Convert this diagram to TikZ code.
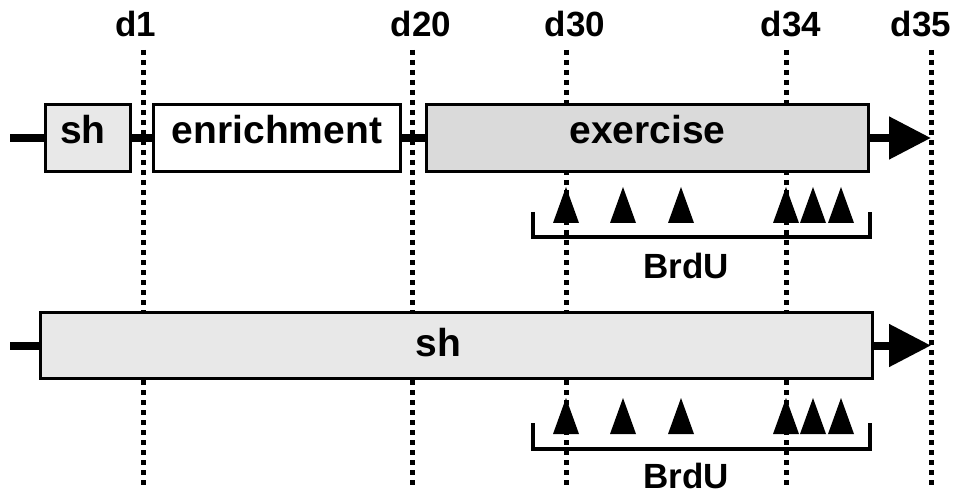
\documentclass[tikz,border=0pt]{standalone}
\usepackage{fontspec}
\setmainfont{Liberation Sans}
\usetikzlibrary{arrows.meta}
\pgfdeclarelayer{background}
\pgfsetlayers{background,main}
\definecolor{shgray}{HTML}{E8E8E8}
\definecolor{exgray}{HTML}{DADADA}
\begin{document}
\begin{tikzpicture}[x=1pt,y=-1pt,
  box/.style={draw=black, line width=3pt, inner sep=0pt, minimum height=67pt,
    font=\fontsize{39}{42}\selectfont\bfseries, text height=28pt, text depth=16pt},
  conn/.style={line width=8pt},
  bigarrow/.style={-{Triangle[length=42pt,width=41pt]}},
  dotline/.style={line width=5pt, dash pattern=on 5pt off 5pt},
  daylabel/.style={anchor=base, inner sep=0pt, font=\fontsize{35}{38}\selectfont\bfseries},
  bracket/.style={line width=4pt},
  brdu/.style={anchor=base, inner sep=0pt, font=\fontsize{35}{38}\selectfont\bfseries},
  tri/.style={fill=black}
]
\useasboundingbox (0,0) rectangle (960,494);

% day labels
\node[daylabel] (ld1)  at (135.5,37) {d1};
\node[daylabel] (ld20) at (421,37) {d20};
\node[daylabel] (ld30) at (575,37) {d30};
\node[daylabel] (ld34) at (791,37) {d34};
\node[daylabel] (ld35) at (921,37) {d35};

% dotted day lines (behind everything)
\foreach \n/\x in {1/143,20/412,30/566,34/786,35/931}{
  \coordinate (vt\n) at (\x,50);
  \coordinate (vb\n) at (\x,485);
}
\begin{pgfonlayer}{background}
\foreach \n in {1,20,30,34,35}{
  \draw[dotline] (vt\n) -- (vb\n);
}
\end{pgfonlayer}

% top row
\node[box, fill=shgray, minimum width=85pt]  (sh1) at (88,138) {sh\kern10pt};
\node[box, fill=white,  minimum width=247pt] (enr) at (277,138) {enrichment};
\node[box, fill=exgray, minimum width=442pt] (ex)  at (647.5,138) {exercise};
\coordinate (s1) at (10,138);
\coordinate (t1) at (931,138);
\draw[conn] (s1) -- (sh1.west);
\draw[conn] (sh1.east) -- (enr.west);
\draw[conn] (enr.east) -- (ex.west);
\draw[conn, bigarrow] (ex.east) -- (t1);

% bottom row
\node[box, fill=shgray, minimum width=832pt, minimum height=66pt, text depth=7pt] (sh2) at (456.5,345.5) {sh\kern36pt};
\coordinate (s2) at (10,345.5);
\coordinate (t2) at (931,345.5);
\draw[conn] (s2) -- (sh2.west);
\draw[conn, bigarrow] (sh2.east) -- (t2);

% BrdU triangles and brackets
\foreach \yb/\yt in {223/187,434/398}{
  \foreach \x in {566,623,681,786,813,841}{
    \fill[tri] (\x-13,\yb) -- (\x+13,\yb) -- (\x,\yt) -- cycle;
  }
}
\draw[bracket] (533,212) -- (533,237) -- (870,237) -- (870,212);
\draw[bracket] (533,423) -- (533,449) -- (870,449) -- (870,423);
\node[brdu] (b1) at (686,278) {BrdU};
\node[brdu] (b2) at (686,488) {BrdU};
\end{tikzpicture}
\end{document}
